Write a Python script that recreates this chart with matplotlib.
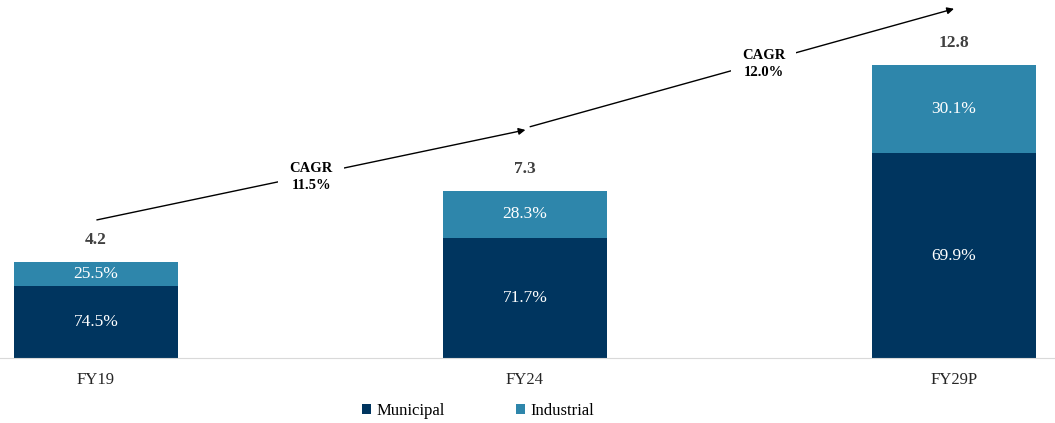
import numpy as np
import matplotlib
matplotlib.use("Agg")
import matplotlib.pyplot as plt

# data
years = ["FY19", "FY24", "FY29P"]
totals = [4.2, 7.3, 12.8]
municipal_pct = [74.5, 71.7, 69.9]
industrial_pct = [25.5, 28.3, 30.1]
cagr_labels = ["CAGR\n11.5%", "CAGR\n12.0%"]

c_mun = "#00355F"
c_ind = "#2E86AB"

plt.rcParams['font.family'] = ['Liberation Serif', 'DejaVu Serif']

fig = plt.figure(figsize=(10.55, 4.23), dpi=100)
ax = fig.add_axes([0, 65 / 423, 1, 358 / 423])

x = np.arange(len(years))
tot = np.array(totals)
mun = tot * np.array(municipal_pct) / 100
ind = tot * np.array(industrial_pct) / 100
w = 0.383

ax.bar(x, mun, w, color=c_mun, label="Municipal")
ax.bar(x, ind, w, bottom=mun, color=c_ind, label="Industrial")

for i in range(len(x)):
    ax.text(x[i], mun[i] / 2, "%.1f%%" % municipal_pct[i], ha="center", va="center",
            color="white", fontsize=12.5)
    ax.text(x[i], mun[i] + ind[i] / 2, "%.1f%%" % industrial_pct[i], ha="center",
            va="center", color="white", fontsize=12.5)
    ax.annotate("%.1f" % totals[i], (x[i], tot[i]), xytext=(0, 15.5), textcoords="offset points",
                ha="center", va="center", fontsize=12.5, fontweight="bold", color="#404040")

ax.set_xlim(-96 / 429, (1055 - 96) / 429)
ax.set_ylim(0, 358 / 22.9)

# CAGR arrows
arrows = [((0.002, 6.03), (1.001, 9.96)), ((1.012, 10.1), (2.0, 15.25))]
offs = [0.0, 0.05]
for (p0, p1), lab, o in zip(arrows, cagr_labels, offs):
    ax.annotate("", xy=p1, xytext=p0,
                arrowprops=dict(arrowstyle="-|>", color="black", lw=1.0, mutation_scale=10,
                                shrinkA=0, shrinkB=0))
    mx = (p0[0] + p1[0]) / 2 + o
    my = p0[1] + (p1[1] - p0[1]) * (mx - p0[0]) / (p1[0] - p0[0]) - 0.1
    ax.text(mx, my, lab, ha="center", va="center", fontsize=10.5, fontweight="bold",
            linespacing=1.35, bbox=dict(facecolor="white", edgecolor="none", pad=8))

for s in ["top", "right", "left"]:
    ax.spines[s].set_visible(False)
ax.spines["bottom"].set_color("#d9d9d9")
ax.set_yticks([])
ax.set_xticks(x)
ax.set_xticklabels(years, fontsize=12, color="#262626")
ax.tick_params(axis="x", length=0, pad=10)

fig.legend(loc="center", bbox_to_anchor=(478 / 1055, 1 - 411 / 423), ncol=2, frameon=False,
           fontsize=12, handlelength=0.55, handleheight=0.55, handletextpad=0.3,
           columnspacing=4.3)

fig.savefig("out.png", dpi=100)
